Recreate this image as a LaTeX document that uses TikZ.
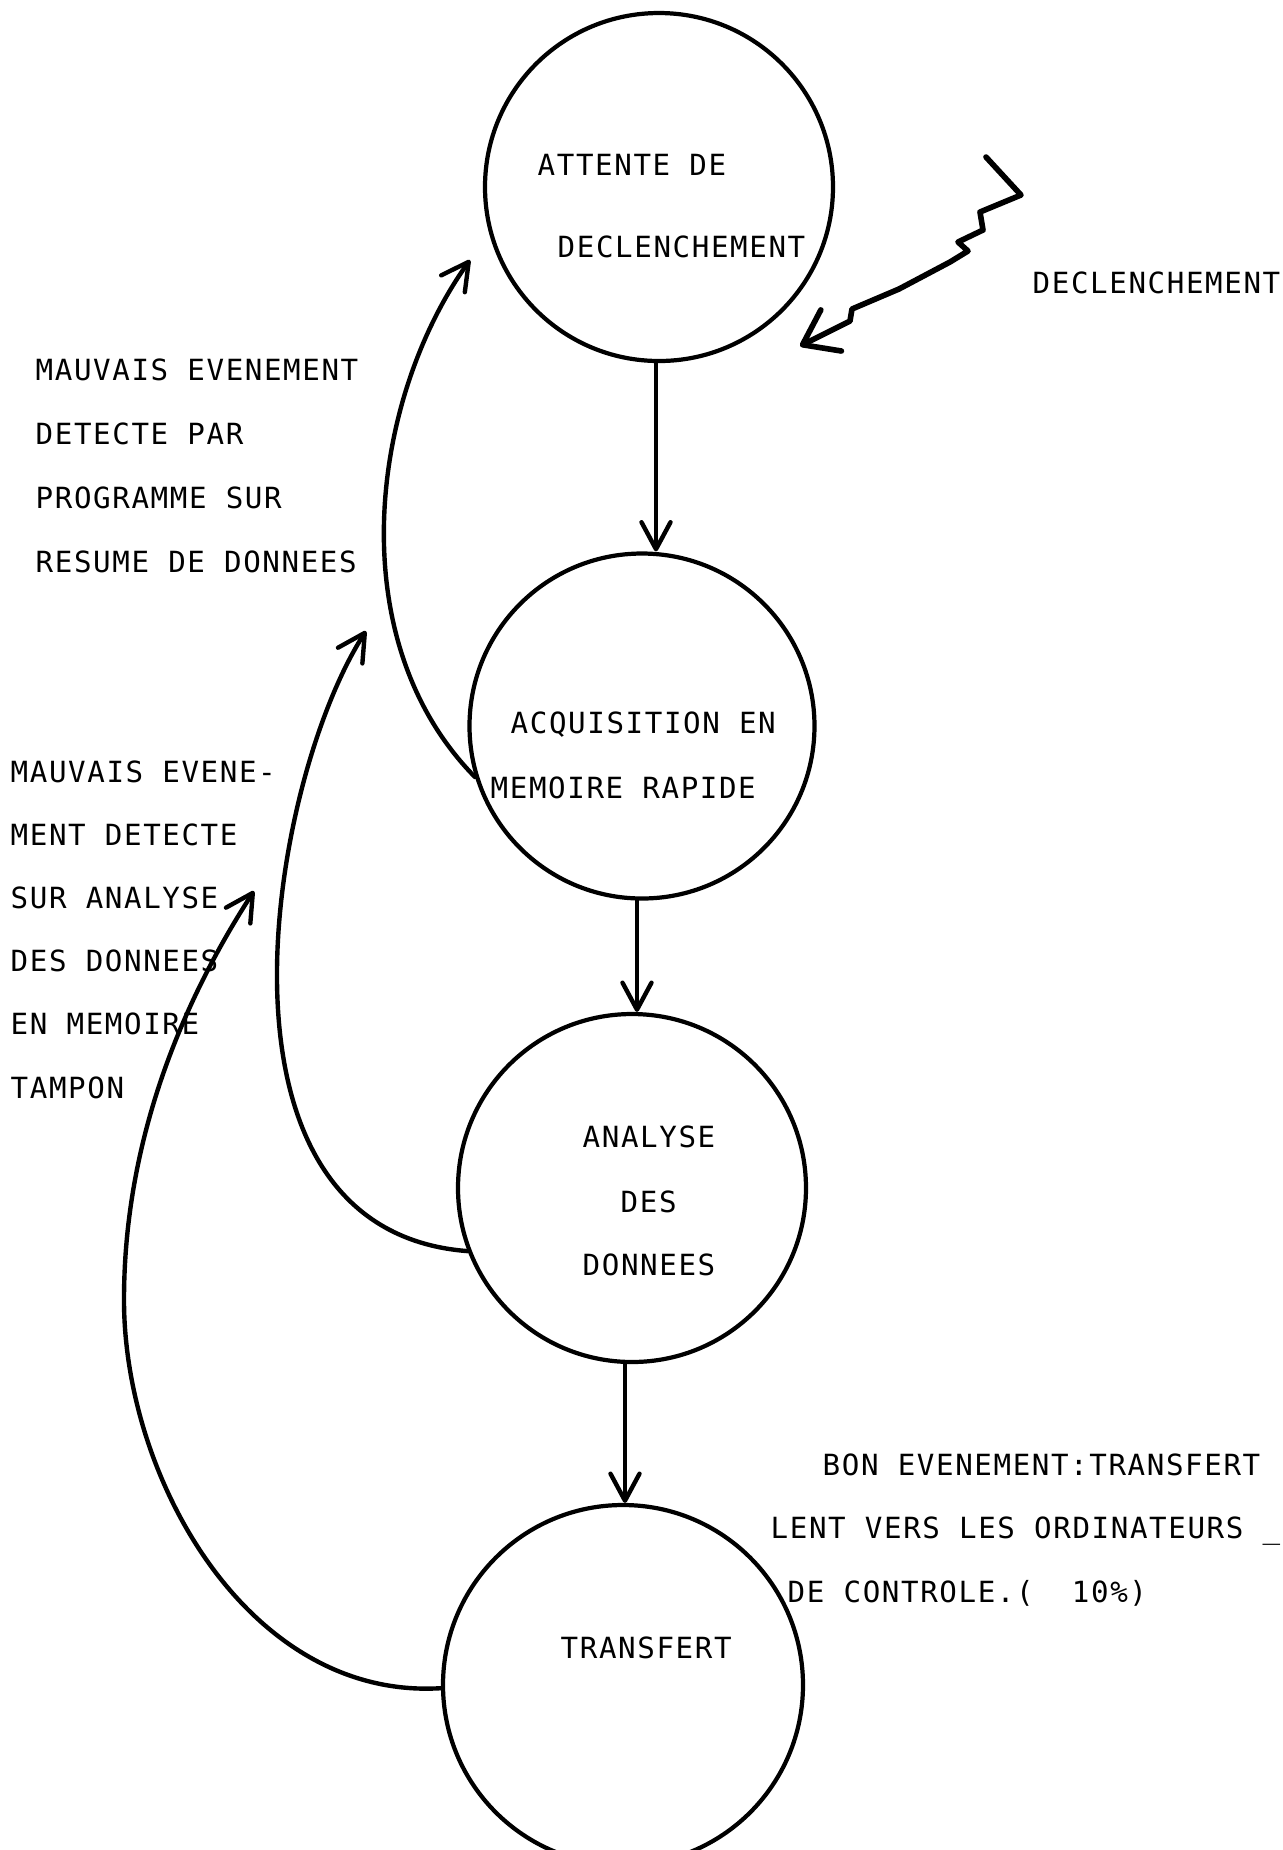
\documentclass[tikz,border=0pt]{standalone}
\usepackage{fontspec}
\usepackage{tikz}
\usetikzlibrary{arrows.meta}
\newfontfamily\plotfont{DejaVu Sans Mono}[LetterSpace=5.5]
\tikzset{
  st/.style={circle, draw, line width=1.2pt, minimum size=3.48cm, inner sep=0pt},
  arr/.style={draw, line width=1.25pt, line cap=round, -{Straight Barb[length=2.7mm,width=2.9mm,round]}},
  zap/.style={draw, line width=1.6pt, line cap=round, line join=round, -{Straight Barb[length=3.2mm,width=4.6mm,round]}},
  lab/.style={anchor=base west, inner sep=0pt, font=\plotfont\fontsize{8.3}{10}\selectfont},
}
\begin{document}
\begin{tikzpicture}[x=0.1mm,y=-0.1mm]
  \useasboundingbox (0,0) rectangle (1283,1850);
  \node[st] (wait) at (659,187) {};
  \node[st,minimum size=3.45cm] (acq) at (642,726) {};
  \node[st] (ana) at (632,1188) {};
  \node[st,minimum size=3.6cm] (trans) at (623,1685) {};
  \node[lab] (wait1) at (537,175) {ATTENTE DE};
  \node[lab] (wait2) at (557,257) {DECLENCHEMENT};
  \node[lab] (acq1) at (510,733) {ACQUISITION EN};
  \node[lab] (acq2) at (490,798) {MEMOIRE RAPIDE};
  \node[lab] (ana1) at (582,1147) {ANALYSE};
  \node[lab] (ana2) at (620,1212) {DES};
  \node[lab] (ana3) at (582,1275) {DONNEES};
  \node[lab] (trans1) at (560,1658) {TRANSFERT};
  \node[lab] (trig) at (1032,293) {DECLENCHEMENT};
  \foreach \txt [count=\i from 0] in {MAUVAIS EVENEMENT, DETECTE PAR, PROGRAMME SUR, RESUME DE DONNEES}
    \node[lab] (prog\i) at (35,{380+64*\i}) {\txt};
  \foreach \txt [count=\i from 0] in {MAUVAIS EVENE-, MENT DETECTE, SUR ANALYSE, DES DONNEES, EN MEMOIRE, TAMPON}
    \node[lab] (buf\i) at (10,{782+63.2*\i}) {\txt};
  \node[lab] (good0) at (822,1475) {BON EVENEMENT:TRANSFERT};
  \node[lab] (good1) at (770,1538) {LENT VERS LES ORDINATEURS \_};
  \node[lab] (good2) at (787,1602) {DE CONTROLE.(\ \ 10\%)};
  \coordinate (zaptop) at (986,157);
  \coordinate (zaptip) at (800,346);
  \coordinate (tipA) at (470,260);
  \coordinate (tipB) at (366,631);
  \coordinate (tipC) at (254,891);
  \draw[zap] (zaptop) -- (1021,195) -- (980,212) -- (983,230) -- (958,242) -- (968,251)
    -- (950,262) -- (899,289) -- (852,309) -- (850,321) -- (zaptip);
  \draw[arr] ([xshift=-0.3mm]wait.south) -- ([xshift=-0.3mm]wait.south |- acq.north);
  \draw[arr] ([xshift=-0.5mm]acq.south) -- ([xshift=-0.5mm]acq.south |- ana.north);
  \draw[arr] ([xshift=-0.7mm]ana.south) -- ([xshift=-0.7mm]ana.south |- trans.north);
  \draw[arr] (acq.197) .. controls (340,640) and (370,400) .. (tipA);
  \draw[arr] (ana.201) .. controls (192,1230) and (270,780) .. (tipB);
  \draw[arr] (trans.181) .. controls (250,1700) and (124,1480) .. (124,1300)
    .. controls (124,1130) and (190,990) .. (tipC);
\end{tikzpicture}
\end{document}
